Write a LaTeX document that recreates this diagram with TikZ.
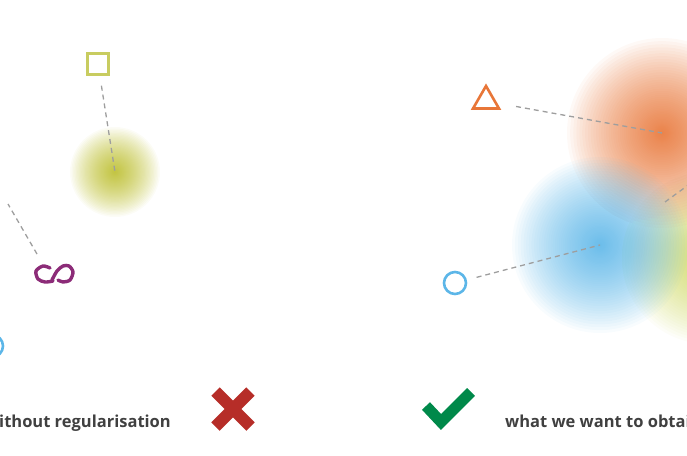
\documentclass[tikz,border=0pt]{standalone}
\usepackage{fontspec}
\setmainfont{Open Sans}
\usetikzlibrary{calc,shapes.geometric}
\definecolor{sqolive}{RGB}{200,204,96}
\definecolor{blobolive}{RGB}{188,190,46}
\definecolor{blobyel}{RGB}{206,216,98}
\definecolor{triorange}{RGB}{232,118,56}
\definecolor{ringblue}{RGB}{92,182,232}
\definecolor{knotpurple}{RGB}{140,44,120}
\definecolor{nored}{RGB}{182,45,40}
\definecolor{okgreen}{RGB}{0,137,74}
\definecolor{txtgray}{RGB}{64,64,64}
% soft blob: colour, centre, radius
\newcommand{\blob}[3]{%
  \foreach \k in {1,...,60}
    \fill [#1, opacity=0.045] (#2) circle [radius={#3*(\k/60)*(\k/60)}];}

\begin{document}
\begin{tikzpicture}[x=1pt,y=-1pt,
  link/.style={draw=black!38, dash pattern=on 5pt off 4pt, line width=1.3pt},
  marker/.style={draw, line width=2.6pt, inner sep=0pt},
  lbl/.style={text=txtgray, font=\fontsize{16.5}{20}\selectfont\bfseries, inner sep=0pt}]
\useasboundingbox (0,0) rectangle (687,455);
\clip (0,0) rectangle (687,455);
% blobs
\coordinate (olc) at (115,172);
\coordinate (ylc) at (708,258);
\coordinate (orc) at (662,133);
\coordinate (blc) at (600,245);
\blob{blobolive}{olc}{45}
\blob{blobyel}{ylc}{86}
\blob{triorange}{orc}{95}
\blob{ringblue}{blc}{88}
% markers
\node [marker, draw=sqolive, rectangle, minimum size=21pt] (sq) at (98,64) {};
\node [marker, draw=triorange, regular polygon, regular polygon sides=3, minimum size=30pt] (tri) at (486,101) {};
\node [marker, draw=ringblue, circle, minimum size=22pt] (ringR) at (455,283) {};
\node [marker, draw=ringblue, circle, minimum size=22pt] (ringL) at (-8,346) {};
\coordinate (knot) at (37,254);
\draw [knotpurple, line width=3.4pt, line cap=round]
  plot [smooth] coordinates {(50,268) (43,266) (36,271) (38,279) (45,282) (53,281)}
  plot [smooth] coordinates {(52,280) (57,271) (63,266) (69,266) (73,272) (70,280) (63,282) (58,280)};
% links
\coordinate (offA) at (8,204);
\coordinate (gapA) at (665,202);
\coordinate (offB) at (720,162);
\draw [link, shorten <=10pt] (sq) -- (olc);
\draw [link] (knot) -- (offA);
\draw [link, shorten <=19pt] (tri) -- (orc);
\draw [link, shorten <=10pt] (ringR) -- (blc);
\draw [link] (gapA) -- (offB);
% verdicts
\node [lbl, anchor=base east] (nore) at (171,427.5) {without regularisation};
\draw [nored, line width=12pt] (215.5,391.5) -- (250.5,426.5) (250.5,391.5) -- (215.5,426.5);
\draw [okgreen, line width=11pt, miter limit=10] (426,406) -- (441,422) -- (471,392);
\node [lbl, anchor=base west] (want) at (505,427.5) {what we want to obtain};
\end{tikzpicture}
\end{document}
